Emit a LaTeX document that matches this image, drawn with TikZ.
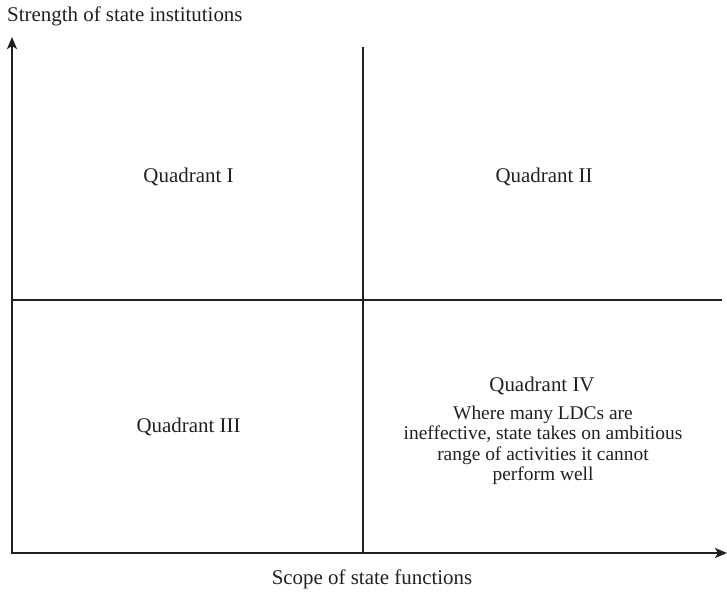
\documentclass[tikz,border=0pt]{standalone}
\usepackage{fontspec}
\setmainfont{Liberation Serif}
\usetikzlibrary{arrows.meta}
\definecolor{ink}{HTML}{231F20}
\begin{document}
\begin{tikzpicture}[x=1bp,y=-1bp,
  axis/.style={draw=ink,line width=2.8bp,-{Stealth[length=12bp,width=10bp,inset=3bp]}},
  divider/.style={draw=ink,line width=2.8bp},
  lbl/.style={text=ink,font=\fontsize{21}{24}\selectfont,inner sep=0pt,anchor=base},
  desc/.style={text=ink,font=\fontsize{19.5}{20}\selectfont,inner sep=0pt,anchor=base}]
\useasboundingbox (0,0) rectangle (727,593);
\coordinate (O) at (12,553);
\coordinate (ytop) at (12,37);
\coordinate (xend) at (727,553);
\coordinate (vtop) at (363,47);
\coordinate (vbot) at (363,553);
\coordinate (hl) at (12,300);
\coordinate (hr) at (722,300);
\draw[divider] (vtop) -- (vbot);
\draw[divider] (hl) -- (hr);
\draw[axis] (O) -- (ytop);
\draw[axis] ([xshift=-1.4bp]O) -- (xend);
\node[lbl,anchor=base west] (ylab) at (7,22) {Strength of state institutions};
\node[lbl] (xlab) at (372,584) {Scope of state functions};
\node[lbl] (q1) at (188.5,183) {Quadrant I};
\node[lbl] (q2) at (544,183) {Quadrant II};
\node[lbl] (q3) at (188.5,432) {Quadrant III};
\node[lbl] (q4) at (542,391) {Quadrant IV};
\node[desc] (q4a) at (543,419) {Where many LDCs are};
\node[desc] (q4b) at (543,439.5) {ineffective, state takes on ambitious};
\node[desc] (q4c) at (543,460) {range of activities it cannot};
\node[desc] (q4d) at (543,480.5) {perform well};
\end{tikzpicture}
\end{document}
